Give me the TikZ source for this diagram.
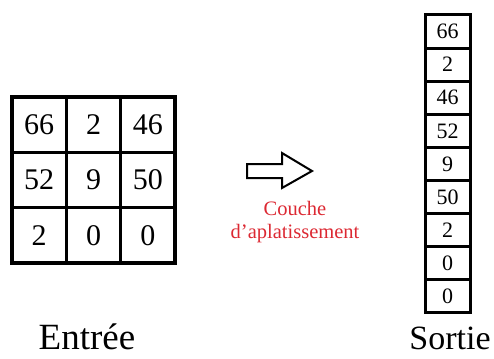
\documentclass[tikz,border=0pt]{standalone}
\usepackage{fontspec}
\setmainfont{Liberation Serif}
\definecolor{labelred}{RGB}{220,40,50}
\begin{document}
\begin{tikzpicture}[x=1pt,y=-1pt,
  gridcell/.style={draw=black,line width=3.4pt,minimum width=54.3pt,minimum height=55.3pt,inner sep=0pt,
    font=\fontsize{30}{30}\selectfont},
  colcell/.style={draw=black,line width=3pt,minimum width=45pt,minimum height=33.1pt,inner sep=0pt,
    font=\fontsize{22}{22}\selectfont},
  caption/.style={anchor=base,inner sep=0pt},
  redlabel/.style={text=labelred,inner sep=0pt,font=\fontsize{20.5}{23}\selectfont,anchor=base}]
\useasboundingbox (0,0) rectangle (494,358);
% input grid
\node[gridcell] (g11) at (39.2,124.7) {66};
\node[gridcell] (g12) at (93.5,124.7) {2};
\node[gridcell] (g13) at (147.8,124.7) {46};
\node[gridcell] (g21) at (39.2,180) {52};
\node[gridcell] (g22) at (93.5,180) {9};
\node[gridcell] (g23) at (147.8,180) {50};
\node[gridcell] (g31) at (39.2,235.3) {2};
\node[gridcell] (g32) at (93.5,235.3) {0};
\node[gridcell] (g33) at (147.8,235.3) {0};
% output column
\foreach \v [count=\i from 0] in {66,2,46,52,9,50,2,0,0}{
  \node[colcell] (c\i) at (447.5,{15+33.1*(\i+0.5)}) {\v};
}
% arrow
\draw[line width=2pt,line join=miter] (247,164) -- (282,164) -- (282,153) -- (312,171) -- (282,188) -- (282,178) -- (247,178) -- cycle;
\node[redlabel] (lbl1) at (295,215) {Couche};
\node[redlabel] (lbl2) at (295,238) {d'aplatissement};
% captions
\node[caption,font=\fontsize{37}{37}\selectfont] (entree) at (87,349) {Entrée};
\node[caption,font=\fontsize{34}{34}\selectfont] (sortie) at (450,349) {Sortie};
\end{tikzpicture}
\end{document}
